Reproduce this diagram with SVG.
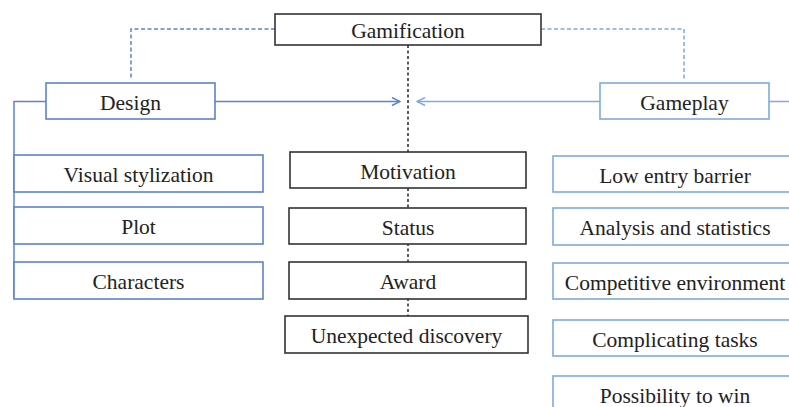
<svg xmlns="http://www.w3.org/2000/svg" width="789" height="407" viewBox="0 0 789 407">
<defs>
<style>
.t{font-family:"Liberation Serif","Times New Roman",serif;font-size:21.5px;fill:#222;text-anchor:middle}
.bk{fill:#fff;stroke:#333;stroke-width:1.6}
.bl{fill:#fff;stroke:#5b84c9;stroke-width:1.6}
.br{fill:#fff;stroke:#7fabdb;stroke-width:1.6}
.cl{fill:none;stroke:#5b84c9;stroke-width:1.5}
.cr{fill:none;stroke:#7fabdb;stroke-width:1.5}
.dl{fill:none;stroke:#5b84c9;stroke-width:1.5;stroke-dasharray:4 2.5}
.dr{fill:none;stroke:#7fabdb;stroke-width:1.5;stroke-dasharray:4 2.5}
.dk{fill:none;stroke:#333;stroke-width:1.6;stroke-dasharray:3 2.5}
</style>
<marker id="al" viewBox="0 0 10 10" refX="9" refY="5" markerWidth="10" markerHeight="10" markerUnits="userSpaceOnUse" orient="auto">
<path d="M1,1 L9,5 L1,9" fill="none" stroke="#5b84c9" stroke-width="1.5"/>
</marker>
<marker id="ar" viewBox="0 0 10 10" refX="9" refY="5" markerWidth="10" markerHeight="10" markerUnits="userSpaceOnUse" orient="auto">
<path d="M1,1 L9,5 L1,9" fill="none" stroke="#7fabdb" stroke-width="1.5"/>
</marker>
</defs>
<rect width="789" height="407" fill="#fff"/>
<g id="connectors">
<path class="dl" d="M275,29 H131 V80"/>
<path class="dr" d="M541,29 H684 V80"/>
<path class="dk" d="M408,45 V316"/>
<path class="cl" d="M46,101.5 H14 V298"/>
<path class="cl" d="M215,101.5 H400" marker-end="url(#al)"/>
<path class="cr" d="M600,101.5 H417" marker-end="url(#ar)"/>
<path class="cr" d="M769,101.5 H789"/>
</g>
<g id="gamification"><rect class="bk" x="275" y="14" width="266" height="31"/><text class="t" x="408" y="37.5">Gamification</text></g>
<g id="design"><rect class="bl" x="46" y="83" width="169" height="36"/><text class="t" x="130.5" y="110">Design</text></g>
<g id="gameplay"><rect class="br" x="600" y="83" width="169" height="36"/><text class="t" x="684.5" y="110">Gameplay</text></g>
<g id="visual"><rect class="bl" x="14" y="155" width="249" height="37"/><text class="t" x="138.5" y="182">Visual stylization</text></g>
<g id="plot"><rect class="bl" x="14" y="207" width="249" height="37"/><text class="t" x="138.5" y="234">Plot</text></g>
<g id="characters"><rect class="bl" x="14" y="262" width="249" height="37"/><text class="t" x="138.5" y="289">Characters</text></g>
<g id="motivation"><rect class="bk" x="290" y="152" width="236" height="36"/><text class="t" x="408" y="179">Motivation</text></g>
<g id="status"><rect class="bk" x="289" y="208" width="237" height="36"/><text class="t" x="408" y="235">Status</text></g>
<g id="award"><rect class="bk" x="289" y="262" width="237" height="37"/><text class="t" x="408" y="289">Award</text></g>
<g id="unexpected"><rect class="bk" x="285" y="316" width="243" height="37"/><text class="t" x="406.5" y="343">Unexpected discovery</text></g>
<g id="lowentry"><rect class="br" x="553" y="156" width="245" height="36"/><text class="t" x="675" y="183">Low entry barrier</text></g>
<g id="analysis"><rect class="br" x="553" y="208" width="245" height="37"/><text class="t" x="675" y="235">Analysis and statistics</text></g>
<g id="competitive"><rect class="br" x="553" y="263" width="245" height="36"/><text class="t" x="675" y="290">Competitive environment</text></g>
<g id="complicating"><rect class="br" x="553" y="320" width="245" height="36"/><text class="t" x="675" y="347">Complicating tasks</text></g>
<g id="possibility"><rect class="br" x="553" y="376" width="245" height="40"/><text class="t" x="675" y="403">Possibility to win</text></g>
</svg>
